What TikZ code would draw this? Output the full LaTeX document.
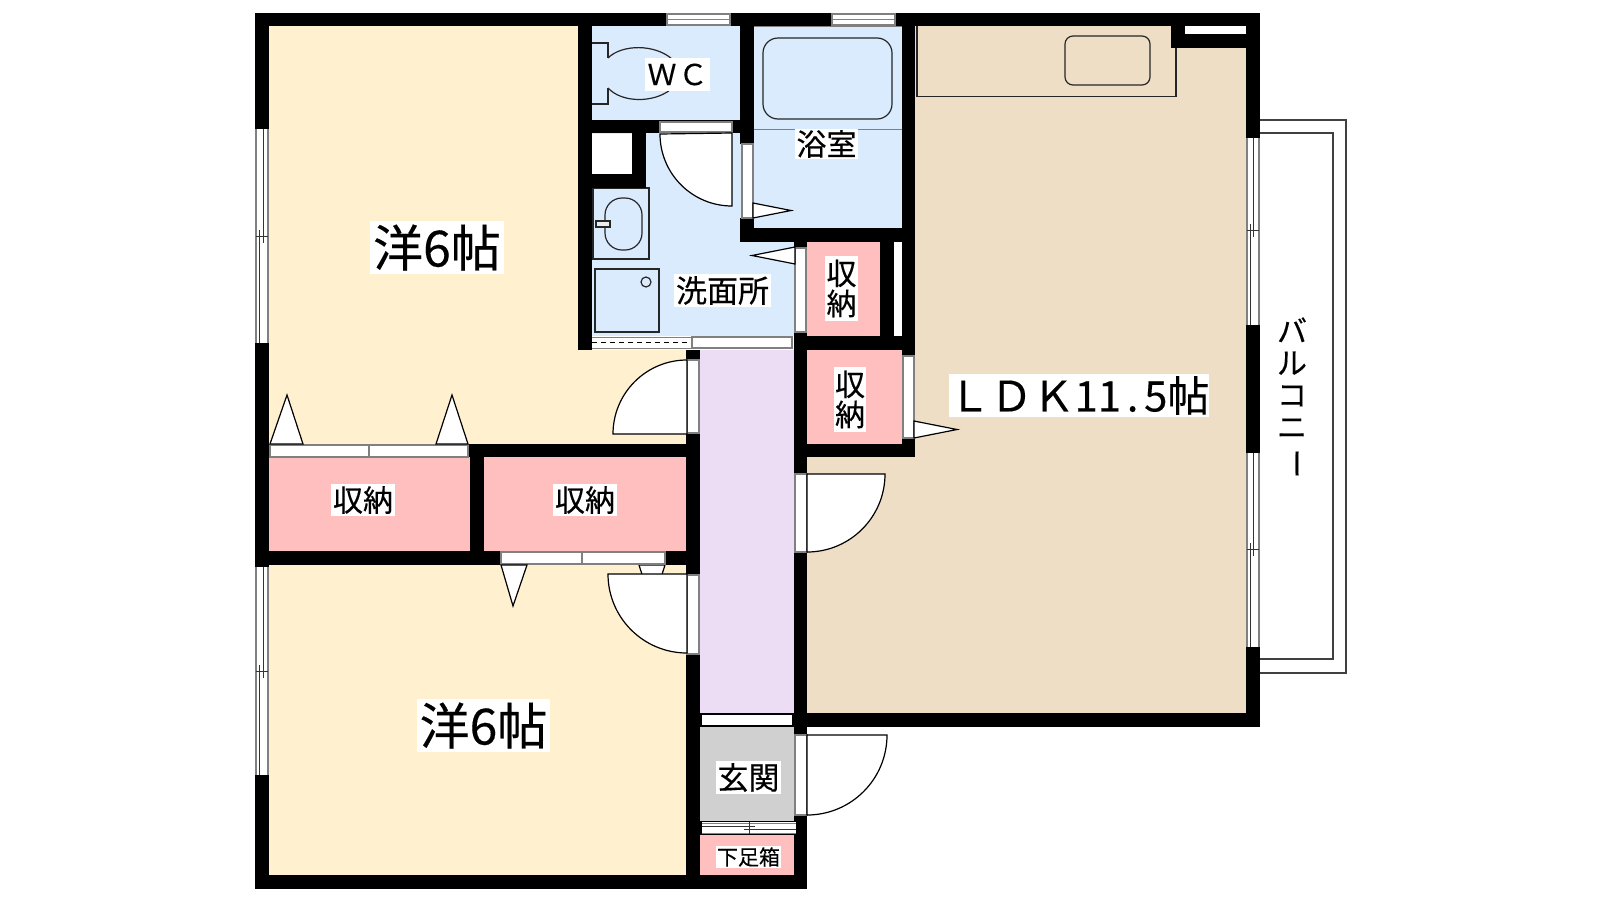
\documentclass[tikz,border=0pt]{standalone}
\usepackage{fontspec}
\newfontfamily\cjk[FakeBold=0.3]{Noto Sans CJK JP}
\definecolor{cream}{HTML}{FFF0CF}
\definecolor{sky}{HTML}{DBEBFE}
\definecolor{rosy}{HTML}{FFBFBF}
\definecolor{lilac}{HTML}{ECDDF5}
\definecolor{tan}{HTML}{EEDEC5}
\definecolor{hallgray}{HTML}{D0D0D0}
\definecolor{edge}{HTML}{808080}
\tikzset{
  wall/.style={fill=black},
  pane/.style={fill=white,draw=edge,line width=1.4pt},
  swing/.style={fill=white,draw=black,line width=1.2pt},
  fix/.style={draw=black!85,line width=1.2pt},
  lbl/.style={fill=white,inner sep=0pt,text=black,align=center,font=\cjk},
}
\newcommand{\vwin}[7]{% x0 xm1 xm2 x1 ya ym yb
  \fill[white] (#1,#5) rectangle (#4,#7);
  \draw[edge,line width=1.8pt] (#1,#5) -- (#1,#7) (#4,#5) -- (#4,#7);
  \draw[black!80,line width=1pt] (#1,#6) -- (#4,#6) (#2,#6-6) -- (#2,#7) (#3,#5) -- (#3,#6+7);
}
\newcommand{\hwin}[4]{% x0 x1 y0 y1
  \fill[white] (#1,#3) rectangle (#2,#4);
  \draw[edge,line width=1.4pt] (#1,#3) rectangle (#2,#4);
  \draw[edge,line width=1.4pt] (#1,{(#3+#4)/2}) -- (#2,{(#3+#4)/2});
}
\begin{document}
\begin{tikzpicture}[x=1pt,y=-1pt]
\useasboundingbox (0,0) rectangle (1600,900);
\fill[white] (0,0) rectangle (1600,900);
% room fills
\fill[cream] (269,26) rectangle (578,444);
\fill[cream] (578,350) rectangle (686,444);
\fill[cream] (269,565) rectangle (686,875);
\fill[sky] (592,26) rectangle (740,120);
\fill[sky] (754,26) rectangle (902,228);
\fill[sky] (592,133) rectangle (794,336);
\fill[rosy] (269,457) rectangle (470,551);
\fill[rosy] (484,457) rectangle (686,551);
\fill[rosy] (807,242) rectangle (880,336);
\fill[rosy] (807,350) rectangle (902,444);
\fill[rosy] (700,835) rectangle (794,875);
\fill[lilac] (700,350) rectangle (794,713);
\fill[hallgray] (700,727) rectangle (794,821);
\fill[tan] (915,26) rectangle (1246,713);
\fill[tan] (807,457) rectangle (915,713);
% fixtures
\draw[fix] (917,26) -- (917,96.5) -- (1176,96.5) -- (1176,48);
\draw[fix,rounded corners=8pt] (1065,36) rectangle (1150,85);
\draw[fix,rounded corners=15pt] (763,38) rectangle (892,119);
\draw[edge,line width=1pt] (754,26.5) -- (902,26.5) (754,129) -- (902,129);
\draw[fix] (592,43) -- (608,43) -- (608,58) (608,88) -- (608,104) -- (592,104);
\draw[fix] (608,58) .. controls (622,44) and (655,44) .. (672,59);
\draw[fix] (608,88) .. controls (622,103) and (653,103) .. (670,90);
\draw[fix] (593,188) rectangle (649,259);
\draw[fix,rounded corners=17pt] (605,198) rectangle (642,250);
\draw[fix,fill=hallgray!40] (596,221) rectangle (610,227);
\draw[fix] (595,269) rectangle (659,332);
\draw[fix] (646,282) circle[radius=5pt];
% walls
\fill[wall] (255,13) rectangle (1260,26);
\fill[wall] (255,13) rectangle (269,129);
\fill[wall] (255,343) rectangle (269,567);
\fill[wall] (255,775) rectangle (269,889);
\fill[wall] (255,875) rectangle (807,889);
\fill[wall] (578,13) rectangle (592,350);
\fill[wall] (578,120) rectangle (740,133);
\fill[wall] (740,13) rectangle (754,144);
\fill[wall] (740,218) rectangle (754,242);
\fill[wall] (632,133) rectangle (646,188);
\fill[wall] (592,174) rectangle (646,188);
\fill[wall] (740,228) rectangle (915,242);
\fill[wall] (902,13) rectangle (915,356);
\fill[wall] (902,438) rectangle (915,457);
\fill[wall] (794,228) rectangle (807,248);
\fill[wall] (794,332) rectangle (807,474);
\fill[wall] (794,552) rectangle (807,735);
\fill[wall] (794,815) rectangle (807,889);
\fill[wall] (880,242) rectangle (894,336);
\fill[wall] (794,336) rectangle (915,350);
\fill[wall] (807,444) rectangle (915,457);
\fill[wall] (686,350) rectangle (700,360);
\fill[wall] (686,433) rectangle (700,575);
\fill[wall] (686,654) rectangle (700,889);
\fill[wall] (468,444) rectangle (700,457);
\fill[wall] (470,444) rectangle (484,565);
\fill[wall] (255,551) rectangle (501,565);
\fill[wall] (665,551) rectangle (700,565);
\fill[wall] (1246,13) rectangle (1260,138);
\fill[wall] (1246,325) rectangle (1260,453);
\fill[wall] (1246,647) rectangle (1260,727);
\fill[wall] (700,713) rectangle (1260,727);
\fill[wall] (700,821) rectangle (807,835);
\fill[wall] (1171,13) rectangle (1260,48);
\fill[white] (1185,26) rectangle (1246,34);
\fill[white] (592,134) rectangle (632,174);
\fill[white] (894,242) rectangle (901,336);
% balcony
\draw[black!75,line width=1.2pt] (1260,120) -- (1346,120) -- (1346,673) -- (1260,673);
\draw[black!75,line width=1.2pt] (1260,133) -- (1333,133) -- (1333,659) -- (1260,659);
% windows
\vwin{256}{259}{263}{268}{129}{236}{343}
\vwin{256}{259}{263}{268}{567}{671}{775}
\vwin{1247}{1250}{1253}{1259}{138}{230}{325}
\vwin{1247}{1250}{1253}{1259}{453}{549}{647}
\hwin{667}{730}{14}{25}
\hwin{832}{895}{14}{25}
% door leaves and tracks
\draw[pane] (660,122) rectangle (732,132);
\draw[swing] (732,133) -- (732,206) arc[start angle=270,end angle=180,radius=72pt] -- cycle;
\draw[pane] (742,144) rectangle (753,218);
\draw[swing] (753,203) -- (791,210.5) -- (753,218) -- cycle;
\draw[pane] (795,248) rectangle (806,332);
\draw[swing] (795,247) -- (752,255.5) -- (795,264) -- cycle;
\fill[white] (592,336) rectangle (692,349);
\draw[edge,line width=1pt] (592,337) -- (692,337) (592,348.5) -- (692,348.5);
\draw[black,line width=1pt,dash pattern=on 5pt off 4pt] (592,342) -- (692,342);
\draw[pane] (692,337) rectangle (792,348);
\draw[pane] (687,360) rectangle (699,433);
\draw[swing] (687,360) arc[start angle=90,end angle=180,radius=74pt] -- (687,434) -- cycle;
\draw[pane] (687,575) rectangle (699,654);
\draw[swing] (639,565) -- (652,606) -- (665,565) -- cycle;
\draw[swing] (687,574) -- (608,574) arc[start angle=180,end angle=270,radius=79pt] -- cycle;
\draw[pane] (270,445) rectangle (369,457);
\draw[pane] (369,445) rectangle (468,457);
\draw[swing] (270,444) -- (287,395) -- (303,444) -- cycle;
\draw[swing] (436,444) -- (452,395) -- (468,444) -- cycle;
\draw[pane] (501,552) rectangle (582,564);
\draw[pane] (582,552) rectangle (665,564);
\draw[swing] (501,565) -- (513,606) -- (527,565) -- cycle;
\draw[pane] (795,474) rectangle (807,552);
\draw[swing] (807,474) -- (885,474) arc[start angle=0,end angle=-90,radius=78pt] -- cycle;
\draw[pane] (903,356) rectangle (914,438);
\draw[swing] (914,421) -- (957,429.5) -- (914,438) -- cycle;
\fill[white] (702,715) rectangle (792,725);
\draw[pane] (795,735) rectangle (807,815);
\draw[swing] (807,735) -- (887,735) arc[start angle=0,end angle=-90,radius=80pt] -- cycle;
\fill[white] (702,822) rectangle (796,834);
\draw[edge,line width=1pt] (702,823) -- (796,823) (702,833) -- (796,833);
\draw[black!80,line width=.9pt] (702,826) -- (755,826) (744,829) -- (796,829) (749,822) -- (749,834);
% labels
\node[lbl,minimum width=134pt,minimum height=53pt,font=\cjk\fontsize{50}{52}\selectfont] (yo1) at (437,247.5) {洋6帖};
\node[lbl,minimum width=133pt,minimum height=53pt,font=\cjk\fontsize{50}{52}\selectfont] (yo2) at (483.5,725.5) {洋6帖};
\node[lbl,minimum width=65pt,minimum height=33pt,font=\cjk\fontsize{29}{31}\selectfont] (wc) at (677.5,74.5) {Ｗ\kern2ptＣ};
\node[lbl,minimum width=63pt,minimum height=30pt,font=\cjk\fontsize{30}{32}\selectfont] (bath) at (826.5,144) {浴室};
\node[lbl,minimum width=97pt,minimum height=33pt,font=\cjk\fontsize{31}{32}\selectfont] (wash) at (722.5,290.5) {洗面所};
\node[lbl,minimum width=33pt,minimum height=65pt,font=\cjk\fontsize{30}{31}\selectfont] (st1) at (841.5,288.5) {収\\[-1pt]納};
\node[lbl,minimum width=32pt,minimum height=65pt,font=\cjk\fontsize{30}{31}\selectfont] (st2) at (850,399.5) {収\\[-1pt]納};
\node[lbl,minimum width=64pt,minimum height=32pt,font=\cjk\fontsize{30}{31}\selectfont] (st3) at (363,500) {収納};
\node[lbl,minimum width=64pt,minimum height=32pt,font=\cjk\fontsize{30}{31}\selectfont] (st4) at (585,500) {収納};
\node[lbl,minimum width=65pt,minimum height=33pt,font=\cjk\fontsize{31}{32}\selectfont] (ent) at (748.5,777.5) {玄関};
\node[lbl,minimum width=65pt,minimum height=22pt,font=\cjk\fontsize{21}{22}\selectfont] (shoe) at (748.5,857) {下足箱};
\node[lbl,minimum width=258pt,minimum height=43pt,font=\cjk\fontsize{42}{44}\selectfont] (ldk) at (1079,395.5) {ＬＤＫ11\makebox[23pt]{.}5帖};
\node[lbl,minimum width=29pt,minimum height=159pt,font=\cjk\fontsize{30}{32}\selectfont] (balc) at (1292,398) {バ\\ル\\コ\\ニ\\\rotatebox[origin=c]{-90}{ー}};
\end{tikzpicture}
\end{document}
